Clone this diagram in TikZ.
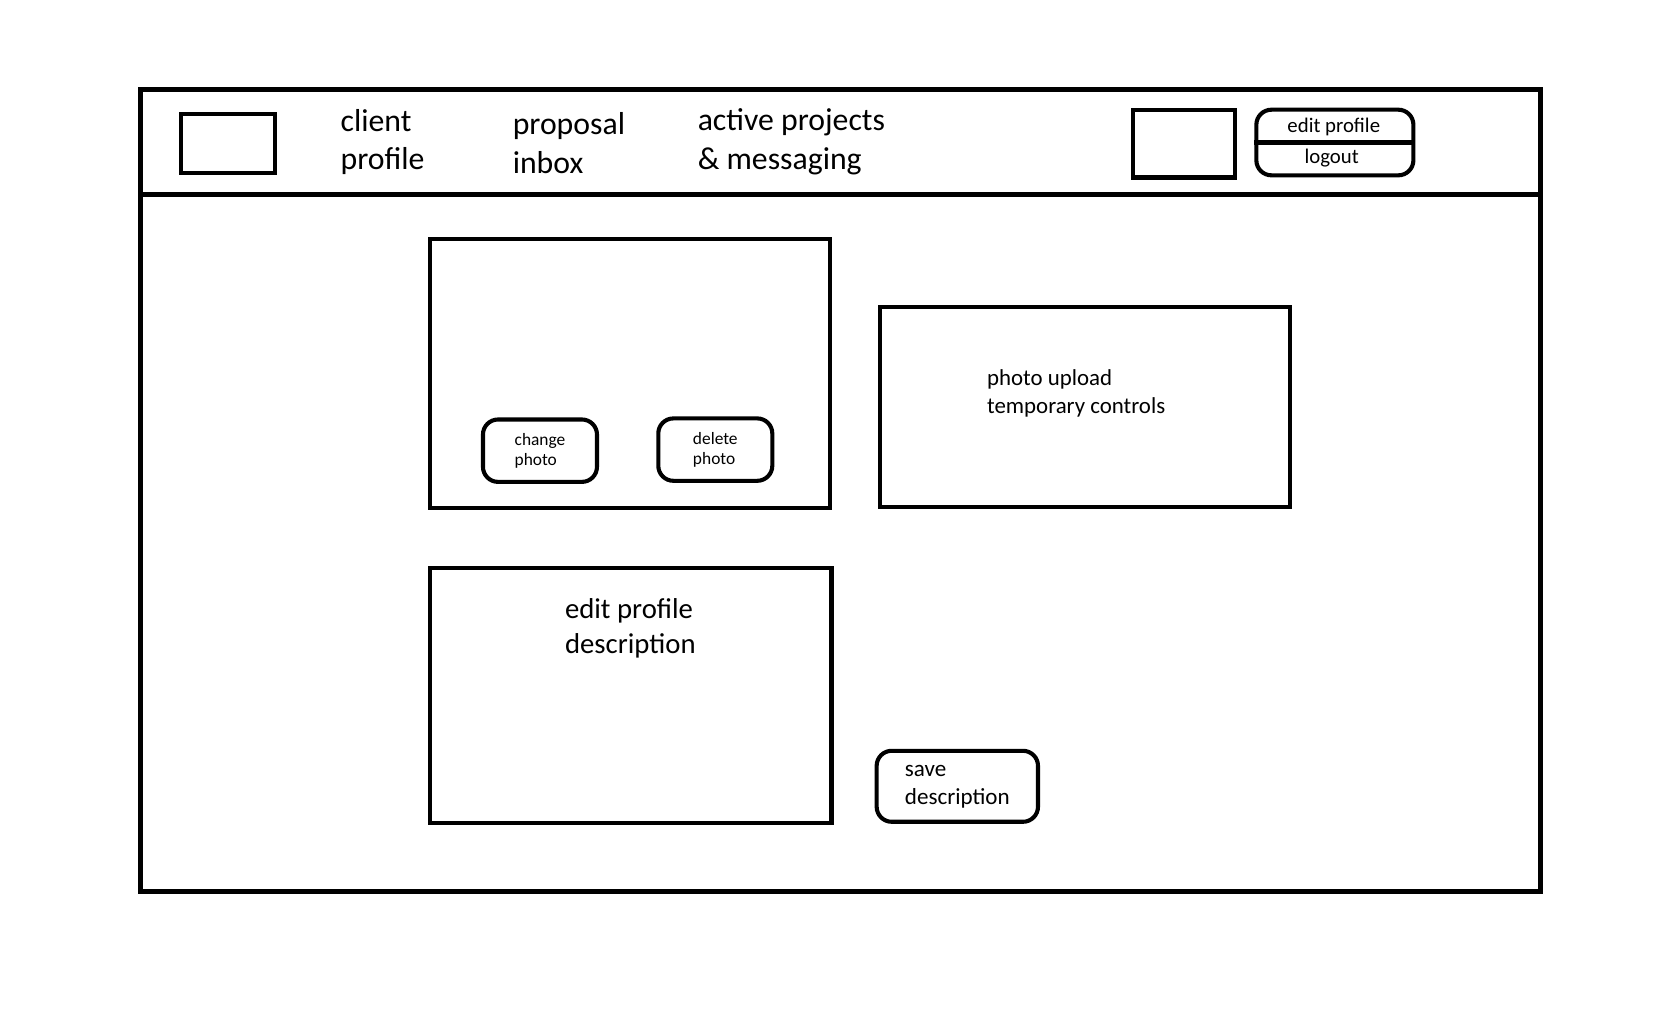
\documentclass[tikz,border=0pt]{standalone}
\usepackage{fontspec}
\setmainfont{Carlito}
\usepackage{tikz}

\begin{document}
\begin{tikzpicture}[x=0.1mm,y=-0.1mm]
	\tikzstyle{frame} = [draw=black, line width=0.45mm]
	\tikzstyle{box} = [draw=black, line width=0.38mm, inner sep=0]
	\tikzstyle{button} = [box, rounded corners=1.4mm, align=left]
	\tikzstyle{navtext} = [align=left, anchor=west, inner sep=0, font=\fontsize{8.4}{10.2}\selectfont]
	\useasboundingbox (0,0) rectangle (1560,944);

	\draw[frame] (131,83) rectangle (1432,829);
	\draw[frame] (131,181) -- (1432,181);

	\node[box, minimum width=8.8mm, minimum height=5.5mm] (logo) at (212,133.5) {};
	\node[navtext] (client) at (316,132) {client\\profile};
	\node[navtext] (inbox) at (476,133) {proposal\\inbox};
	\node[navtext] (active) at (648,132) {active projects\\\& messaging};
	\node[box, minimum width=9.5mm, minimum height=6.3mm] (avatar) at (1100.5,133.5) {};
	\node[button, minimum width=14.6mm, minimum height=6.1mm] (account) at (1241,132.5) {};
	\draw[box] (account.west) -- (account.east);
	\node[font=\fontsize{5.5}{6.7}\selectfont] (edit) at (1240,118) {edit profile};
	\node[font=\fontsize{5.5}{6.7}\selectfont] (logout) at (1238,147) {logout};

	\node[box, minimum width=37.2mm, minimum height=25mm] (photo) at (586,347) {};
	\node[button, minimum width=10.6mm, minimum height=5.8mm, font=\fontsize{4.6}{5.4}\selectfont] (change) at (502,419) {change\\photo};
	\node[button, minimum width=10.6mm, minimum height=5.8mm, font=\fontsize{4.6}{5.4}\selectfont] (delete) at (665,418) {delete\\photo};

	\node[box, minimum width=38.1mm, minimum height=18.6mm] (upload) at (1008.5,378) {};
	\node[align=left, anchor=west, inner sep=0, font=\fontsize{6.05}{7.4}\selectfont] (uploadtext) at (917,366) {photo upload\\temporary controls};

	\node[box, minimum width=37.3mm, minimum height=23.7mm] (desc) at (586.5,646.5) {};
	\node[align=left, inner sep=0, font=\fontsize{7.6}{9.2}\selectfont] (desctext) at (586,584) {edit profile\\description};
	\node[button, minimum width=15mm, minimum height=6.6mm, font=\fontsize{6.1}{7.4}\selectfont] (save) at (890,731) {save\\description};
\end{tikzpicture}
\end{document}
